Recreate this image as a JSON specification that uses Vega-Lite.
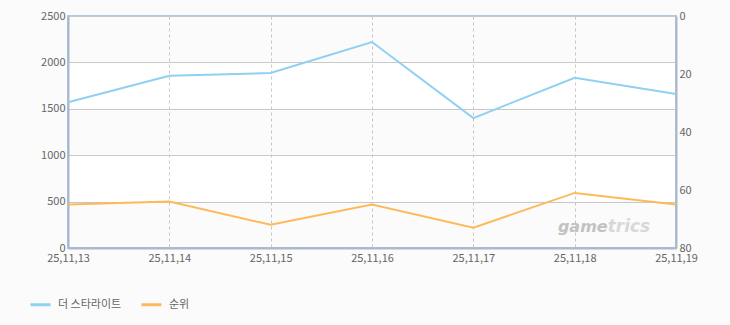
{
  "$schema": "https://vega.github.io/schema/vega-lite/v6.json",
  "width": 608,
  "height": 232,
  "autosize": {"type": "none"},
  "padding": {"left": 68, "top": 16, "right": 54, "bottom": 77},
  "background": "#fbfbfb",
  "config": {
    "font": "Noto Sans CJK KR",
    "view": {"stroke": "#b7c8db", "strokeWidth": 2, "fill": "#ffffff"},
    "axis": {
      "labelFont": "Noto Sans CJK KR",
      "labelFontSize": 11,
      "labelColor": "#666666",
      "ticks": false,
      "title": null,
      "domainColor": "#a9b9cc",
      "domainWidth": 2
    },
    "legend": {
      "orient": "none",
      "legendX": -39,
      "legendY": 277,
      "direction": "horizontal",
      "title": null,
      "symbolType": "stroke",
      "symbolStrokeWidth": 3,
      "symbolSize": 400,
      "labelFont": "Noto Sans CJK KR",
      "labelFontSize": 11,
      "labelColor": "#666666",
      "labelOffset": 6,
      "columnPadding": 13
    }
  },
  "datasets": {
    "main": [
      {"date": "25,11,13", "series": "더 스타라이트", "value": 1570},
      {"date": "25,11,14", "series": "더 스타라이트", "value": 1855},
      {"date": "25,11,15", "series": "더 스타라이트", "value": 1885},
      {"date": "25,11,16", "series": "더 스타라이트", "value": 2220},
      {"date": "25,11,17", "series": "더 스타라이트", "value": 1400},
      {"date": "25,11,18", "series": "더 스타라이트", "value": 1835},
      {"date": "25,11,19", "series": "더 스타라이트", "value": 1660},
      {"date": "25,11,13", "series": "순위", "value": 65},
      {"date": "25,11,14", "series": "순위", "value": 64},
      {"date": "25,11,15", "series": "순위", "value": 72},
      {"date": "25,11,16", "series": "순위", "value": 65},
      {"date": "25,11,17", "series": "순위", "value": 73},
      {"date": "25,11,18", "series": "순위", "value": 61},
      {"date": "25,11,19", "series": "순위", "value": 65}
    ],
    "bands": [
      {"lo": 0, "hi": 500},
      {"lo": 1000, "hi": 1500},
      {"lo": 2000, "hi": 2500}
    ],
    "mark": [
      {"label": "game", "date": "25,11,18", "value": 170, "part": "a"},
      {"label": "trics", "date": "25,11,18", "value": 170, "part": "b"}
    ]
  },
  "layer": [
    {
      "layer": [
        {
          "data": {"name": "bands"},
          "mark": {"type": "rect", "fill": "#000000", "opacity": 0.014},
          "encoding": {
            "y": {
              "field": "lo",
              "type": "quantitative",
              "scale": {"domain": [0, 2500], "nice": false},
              "axis": {
                "values": [0, 500, 1000, 1500, 2000, 2500],
                "format": "d",
                "grid": true,
                "gridColor": "#cccccc",
                "gridWidth": 1,
                "labelPadding": 3,
                "orient": "left"
              }
            },
            "y2": {"field": "hi"}
          }
        },
        {
          "data": {"name": "main"},
          "transform": [{"filter": "datum.series === '더 스타라이트'"}],
          "mark": {"type": "line", "strokeWidth": 2},
          "encoding": {
            "x": {
              "field": "date",
              "type": "ordinal",
              "sort": null,
              "scale": {"type": "point", "padding": 0},
              "axis": {
                "labelAngle": 0,
                "grid": true,
                "gridDash": [3, 3],
                "gridColor": "#c8c8c8",
                "labelPadding": 4,
                "labelOverlap": false,
                "labelBound": false,
                "labelFlush": false
              }
            },
            "y": {"field": "value", "type": "quantitative"},
            "color": {
              "field": "series",
              "type": "nominal",
              "scale": {"domain": ["더 스타라이트", "순위"], "range": ["#8fd0f3", "#fdba5a"]}
            }
          }
        },
        {
          "data": {"name": "mark"},
          "transform": [{"filter": "datum.part === 'a'"}],
          "mark": {"type": "text", "font": "DejaVu Sans", "fontStyle": "italic", "fontWeight": "bold", "fontSize": 16, "color": "#c2c2c2", "align": "right", "baseline": "alphabetic", "dx": 33},
          "encoding": {
            "x": {"field": "date", "type": "ordinal"},
            "y": {"field": "value", "type": "quantitative"},
            "text": {"field": "label"}
          }
        },
        {
          "data": {"name": "mark"},
          "transform": [{"filter": "datum.part === 'b'"}],
          "mark": {"type": "text", "font": "DejaVu Sans", "fontStyle": "italic", "fontWeight": "bold", "fontSize": 17, "color": "#d8d8d8", "align": "left", "baseline": "alphabetic", "dx": 33},
          "encoding": {
            "x": {"field": "date", "type": "ordinal"},
            "y": {"field": "value", "type": "quantitative"},
            "text": {"field": "label"}
          }
        }
      ]
    },
    {
      "data": {"name": "main"},
      "transform": [{"filter": "datum.series === '순위'"}],
      "mark": {"type": "line", "strokeWidth": 2},
      "encoding": {
        "x": {"field": "date", "type": "ordinal", "sort": null},
        "y": {
          "field": "value",
          "type": "quantitative",
          "scale": {"domain": [0, 80], "reverse": true, "nice": false},
          "axis": {"orient": "right", "values": [0, 20, 40, 60, 80], "grid": false, "labelPadding": 3}
        },
        "color": {"field": "series", "type": "nominal"}
      }
    }
  ],
  "resolve": {"scale": {"y": "independent"}}
}
